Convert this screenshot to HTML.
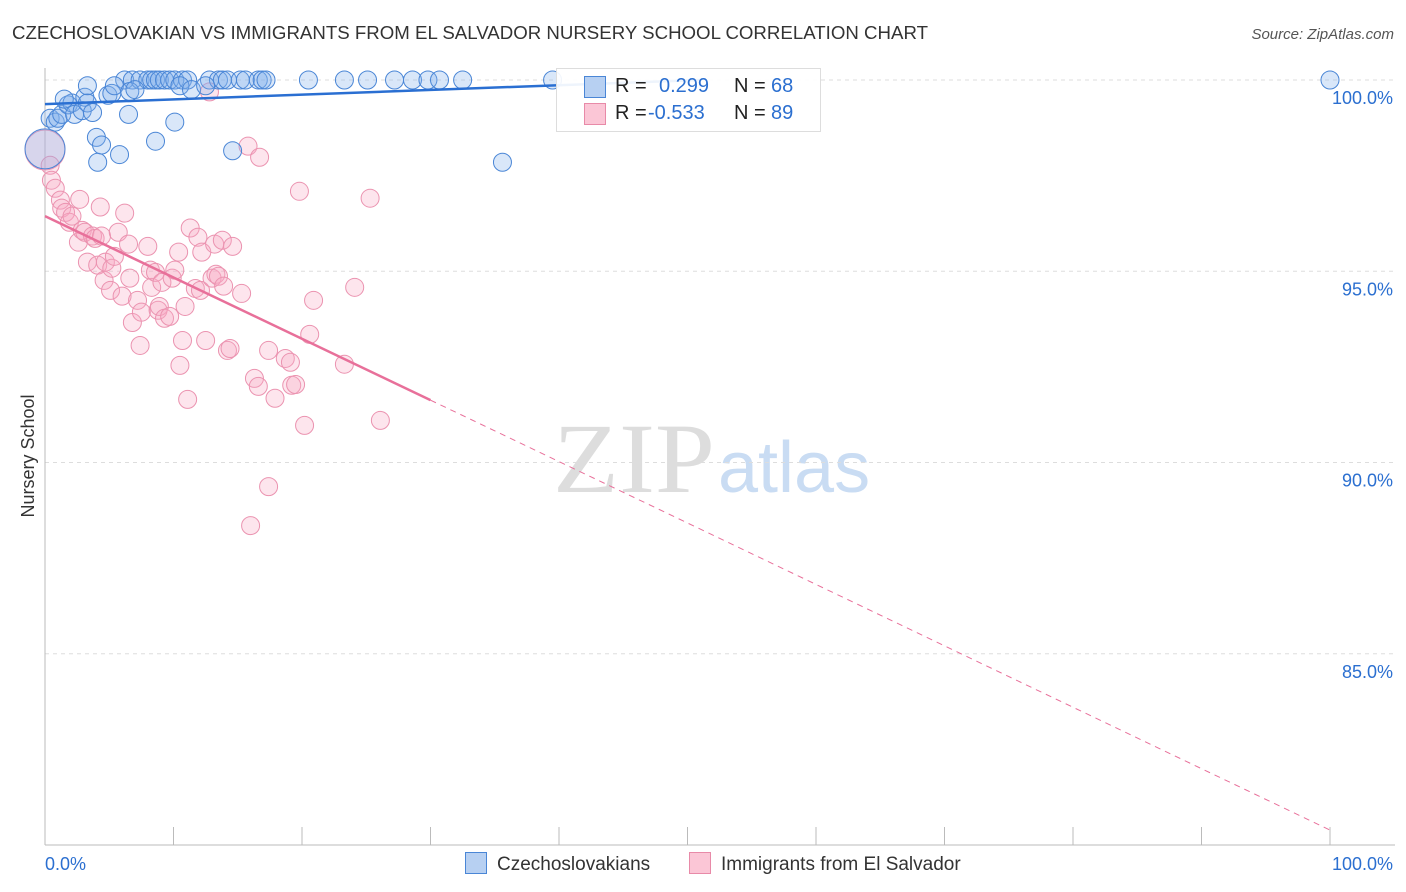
<!DOCTYPE html>
<html><head><meta charset="utf-8">
<style>
body{margin:0;background:#fff;font-family:"Liberation Sans",sans-serif;}
#wrap{position:relative;width:1406px;height:892px;overflow:hidden;}
</style></head>
<body>
<div id="wrap">
<svg id="svg" width="1406" height="892" xmlns="http://www.w3.org/2000/svg">
<text x="12" y="39" font-size="18" fill="#333" textLength="916" lengthAdjust="spacingAndGlyphs" font-family="Liberation Sans, sans-serif">CZECHOSLOVAKIAN VS IMMIGRANTS FROM EL SALVADOR NURSERY SCHOOL CORRELATION CHART</text>
<text x="1394" y="39" font-size="15" fill="#555" text-anchor="end" font-style="italic">Source: ZipAtlas.com</text>
<text x="34" y="456" font-size="18" fill="#333" text-anchor="middle" transform="rotate(-90 34 456)">Nursery School</text>
<text x="553" y="492" font-size="100" fill="#ddd" textLength="162" lengthAdjust="spacingAndGlyphs" font-family="Liberation Serif, serif">ZIP</text>
<text x="718" y="492" font-size="72" fill="#c9dcf3">atlas</text>
<g id="grid"></g><g id="axes"></g><g id="pts"></g><g id="trend"></g>
</svg>
<div style="position:absolute;left:556px;top:68px;width:263px;height:62px;background:rgba(255,255,255,0.92);border:1px solid #ddd;font-size:20px;color:#222;">
 <div style="position:absolute;left:27px;top:6px;width:230px;height:24px;">
  <span style="position:absolute;left:0;top:1px;width:20px;height:20px;background:#b7d0f2;border:1px solid #4a86d6;"></span>
  <span style="position:absolute;left:31px;">R =</span><span style="position:absolute;left:75px;color:#2b6fd0;">0.299</span>
  <span style="position:absolute;left:150px;">N =</span><span style="position:absolute;left:187px;color:#2b6fd0;">68</span></div>
 <div style="position:absolute;left:27px;top:33px;width:230px;height:24px;">
  <span style="position:absolute;left:0;top:1px;width:20px;height:20px;background:#fbc6d6;border:1px solid #e88aa8;"></span>
  <span style="position:absolute;left:31px;">R =</span><span style="position:absolute;left:64px;color:#2b6fd0;">-0.533</span>
  <span style="position:absolute;left:150px;">N =</span><span style="position:absolute;left:187px;color:#2b6fd0;">89</span></div>
</div>
<div style="position:absolute;left:465px;top:852px;font-size:19px;color:#333;">
 <span style="position:absolute;left:0;top:0;white-space:nowrap;"><span style="display:inline-block;width:20px;height:20px;background:#b7d0f2;border:1px solid #4a86d6;vertical-align:-4px;margin-right:10px;"></span>Czechoslovakians</span>
 <span style="position:absolute;left:224px;top:0;white-space:nowrap;"><span style="display:inline-block;width:20px;height:20px;background:#fbc6d6;border:1px solid #e88aa8;vertical-align:-4px;margin-right:10px;"></span>Immigrants from El Salvador</span>
</div>
</div>
<script>
const yTicks=[100,95,90,85];
const yTickLabels=["100.0%","95.0%","90.0%","85.0%"];
const xTickLabels=["0.0%","100.0%"];
const blueX=[6.2,6.8,7.4,8.0,8.3,8.6,8.9,9.3,9.7,10.1,10.7,11.1,12.8,13.5,13.8,14.2,15.2,15.6,16.6,16.9,17.2,20.5,23.3,25.1,27.2,28.6,29.8,30.7,32.5,39.5,100,
0,0.4,0.8,1.0,1.3,1.8,2.1,2.3,2.9,3.1,3.3,3.7,4.0,4.1,4.4,4.9,5.2,5.4,5.8,6.5,6.6,7.0,8.6,10.1,10.5,11.4,14.6,35.6,12.5,3.3,1.5];
const blueY=[100,100,100,100,100,100,100,100,100,100,100,100,100,100,100,100,100,100,100,100,100,100,100,100,100,100,100,100,100,100,100,
98.2,99.0,98.9,99.0,99.1,99.35,99.4,99.1,99.2,99.55,99.4,99.15,98.5,97.85,98.3,99.6,99.65,99.85,98.05,99.1,99.7,99.75,98.4,98.9,99.85,99.75,98.15,97.85,99.85,99.85,99.5];
const pinkX=[0,.4,.5,.8,1.2,1.3,1.6,1.9,2.1,2.6,2.7,2.9,3.1,3.3,3.7,3.9,4.1,4.3,4.4,4.6,4.7,5.1,5.2,5.4,5.7,6.0,6.2,6.5,6.6,6.8,7.2,7.4,7.5,8.0,8.2,8.3,8.6,8.8,8.9,9.1,9.3,9.7,9.9,10.1,10.4,10.5,10.7,10.9,11.1,11.3,11.7,11.9,12.1,12.2,12.5,12.8,13.0,13.2,13.3,13.5,13.8,13.9,14.2,14.4,14.6,15.3,15.8,16.0,16.3,16.6,16.7,17.4,17.4,17.9,18.7,19.1,19.2,19.5,19.8,20.2,20.6,20.9,23.3,24.1,25.3,26.1];
const pinkY=[98.17,97.77,97.38,97.17,96.86,96.65,96.54,96.28,96.44,95.76,96.88,96.07,96.02,95.24,95.92,95.86,95.16,96.68,95.92,94.76,95.24,94.5,95.08,95.39,96.02,94.35,96.52,95.71,94.82,93.66,94.24,93.06,93.93,95.65,95.03,94.58,94.97,93.98,94.08,94.71,93.77,93.82,94.82,95.03,95.5,92.54,93.19,94.08,91.65,96.13,94.55,95.89,94.5,95.5,93.19,99.69,94.82,95.71,94.92,94.87,95.81,94.61,92.93,92.98,95.65,94.42,98.27,88.35,92.2,91.99,97.98,89.37,92.93,91.68,92.72,92.62,92.02,92.04,97.09,90.97,93.35,94.24,92.57,94.58,96.91,91.1];
const blueTrend=[[0,99.37],[51,100]];
const pinkTrend=[[0,96.44],[30,91.63],[100,80.39]];
const X0=45,X1=1330,Y0=80,YB=845;
function sx(v){return X0+(X1-X0)*v/100;}
function sy(v){return Y0+(100-v)*(YB-Y0)/20;}
const NS="http://www.w3.org/2000/svg";
function mk(tag,attrs,parent){const e=document.createElementNS(NS,tag);for(const k in attrs)e.setAttribute(k,attrs[k]);document.getElementById(parent).appendChild(e);return e;}
yTicks.forEach((t,i)=>{
 const l=mk('line',{x1:X0,x2:1395,y1:sy(t),y2:sy(t),stroke:'#ddd','stroke-dasharray':'4,4'},'grid');
 
 
 const tx=mk('text',{x:1393,y:sy(t)+24,'font-size':18,fill:'#2b6fd0','text-anchor':'end'},'grid');
 tx.textContent=yTickLabels[i];
 
 
});
let ax=mk('line',{x1:X0,x2:X0,y1:68,y2:YB,stroke:'#bbb'},'axes');


ax=mk('line',{x1:X0,x2:1395,y1:YB,y2:YB,stroke:'#bbb'},'axes');


for(let i=1;i<=10;i++){const t=mk('line',{x1:sx(i*10),x2:sx(i*10),y1:827,y2:YB,stroke:'#bbb'},'axes');
 
 }
[[0,'start',45],[100,'end',1393]].forEach((a,i)=>{const t=mk('text',{x:a[2],y:870,'font-size':18,fill:'#2b6fd0','text-anchor':a[1]},'axes');t.textContent=xTickLabels[i];
 
 });
function pts(xs,ys,fill,stroke,name){xs.forEach((x,i)=>{const r=(x===0&&i===(name==='blue-point'?31:0))?20:9;
 const c=mk('circle',{cx:sx(x),cy:sy(ys[i]),r:r,fill:fill,stroke:stroke,'stroke-width':1},'pts');
 
 });}
pts(pinkX,pinkY,'rgba(248,170,195,0.3)','#eb93b0','pink-point');
pts(blueX,blueY,'rgba(130,175,235,0.3)','#4a86d6','blue-point');
let bl=mk('line',{x1:sx(blueTrend[0][0]),y1:sy(blueTrend[0][1]),x2:sx(blueTrend[1][0]),y2:sy(blueTrend[1][1]),stroke:'#2a6fd2','stroke-width':2.5},'trend');


let p1=mk('line',{x1:sx(pinkTrend[0][0]),y1:sy(pinkTrend[0][1]),x2:sx(pinkTrend[1][0]),y2:sy(pinkTrend[1][1]),stroke:'#e8709a','stroke-width':2.5},'trend');


let p2=mk('line',{x1:sx(pinkTrend[1][0]),y1:sy(pinkTrend[1][1]),x2:sx(pinkTrend[2][0]),y2:sy(pinkTrend[2][1]),stroke:'#e8709a','stroke-width':1,'stroke-dasharray':'6,5'},'trend');


</script>
</body></html>
